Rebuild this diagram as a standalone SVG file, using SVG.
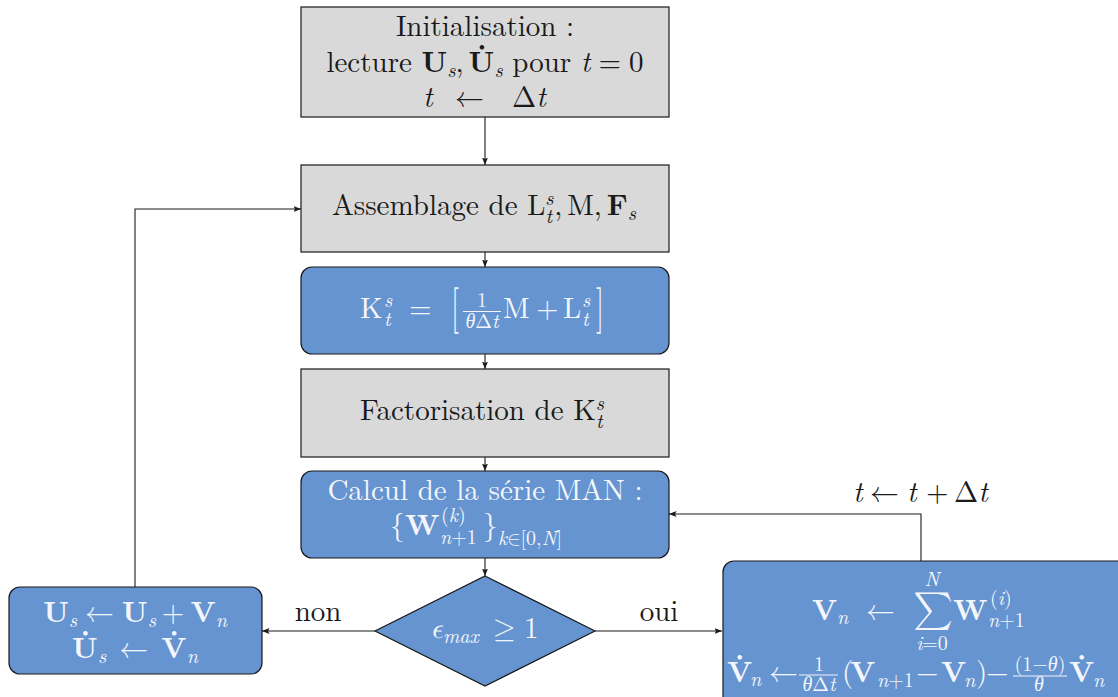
<svg xmlns="http://www.w3.org/2000/svg" width="1118" height="697" viewBox="0 0 1118 697" font-family="Latin Modern Roman, Liberation Serif, DejaVu Serif, serif">
<defs>
<style>
.f{font-family:Latin Modern Roman, Liberation Serif, DejaVu Serif, serif;font-size:29px;fill:#1a1a1a}
.c{text-anchor:middle}
.w{fill:#f4f6fb}
.i{font-style:italic}
.b{font-weight:bold}
.s{font-size:20px}
.ar{font-family:Latin Modern Math, DejaVu Serif, serif;font-style:normal;font-weight:normal}
.ep{font-family:Latin Modern Math, DejaVu Serif, serif;font-style:italic;font-weight:normal}
.g{fill:#d9d9d9;stroke:#1a1a1a;stroke-width:1.2}
.bl{fill:#6594d0;stroke:#1a1a1a;stroke-width:1.2}
.cn{fill:none;stroke:#1a1a1a;stroke-width:1.1;marker-end:url(#ah)}
.fb{stroke:#f4f6fb;stroke-width:1}
</style>
<marker id="ah" markerUnits="userSpaceOnUse" markerWidth="8" markerHeight="7" refX="7.5" refY="3.5" orient="auto"><path d="M0,0.5 L7.5,3.5 L0,6.5 L1.5,3.5 z" fill="#1a1a1a"/></marker>
</defs>
<rect width="1118" height="697" fill="#ffffff"/>

<g id="init">
<rect class="g" x="301" y="7" width="368" height="110"/>
<text class="f c" x="485" y="36">Initialisation :</text>
<text class="f c" x="485" y="72">lecture <tspan class="b">U</tspan><tspan class="s i" dy="5">s</tspan><tspan dy="-5">,</tspan><tspan class="b" dx="5">U</tspan><tspan class="b" dx="-17" dy="-7">˙</tspan><tspan class="s i" dx="8" dy="12">s</tspan><tspan dy="-5"> pour </tspan><tspan class="i">t</tspan><tspan dx="8">=</tspan><tspan dx="8">0</tspan></text>
<text class="f" y="107"><tspan class="i" x="423">t</tspan><tspan class="ar" x="455">←</tspan><tspan x="512">Δ</tspan><tspan class="i">t</tspan></text>
</g>

<g id="assemblage">
<rect class="g" x="301" y="165" width="368" height="87"/>
<text class="f c" x="484" y="215">Assemblage de L<tspan class="s i" dy="-10">s</tspan><tspan class="s i" dx="-8" dy="18">t</tspan><tspan dx="2" dy="-8">,</tspan><tspan dx="5">M,</tspan><tspan class="b" dx="5">F</tspan><tspan class="s i" dy="5">s</tspan></text>
</g>

<g id="kmat">
<rect class="bl" x="301" y="267" width="368" height="87" rx="11"/>
<text class="f w" x="360" y="318">K</text>
<text class="f w s i" x="384" y="307">s</text>
<text class="f w s i" x="384" y="326">t</text>
<text class="f w" x="409" y="318">=</text>
<text class="f w" transform="translate(451,322) scale(1,1.6)">[</text>
<text class="f w s c" x="482" y="307">1</text>
<line class="fb" x1="463" y1="311.5" x2="501" y2="311.5"/>
<text class="f w s c" x="482" y="328"><tspan class="i">θ</tspan>Δ<tspan class="i">t</tspan></text>
<text class="f w" x="503" y="318">M</text>
<text class="f w" x="536" y="318">+</text>
<text class="f w" x="563" y="318">L</text>
<text class="f w s i" x="582" y="307">s</text>
<text class="f w s i" x="582" y="326">t</text>
<text class="f w" transform="translate(596,322) scale(1,1.6)">]</text>
</g>

<g id="factorisation">
<rect class="g" x="301" y="369" width="368" height="88"/>
<text class="f c" x="482" y="420">Factorisation de K<tspan class="s i" dy="-10">s</tspan><tspan class="s i" dx="-8" dy="18">t</tspan></text>
</g>

<g id="calcul">
<rect class="bl" x="301" y="471" width="368" height="87" rx="11"/>
<text class="f w c" x="485" y="500">Calcul de la série MAN :</text>
<text class="f w" x="390" y="535">{</text>
<text class="f w b" x="405" y="535">W</text>
<text class="f w s" x="441" y="522">(<tspan class="i">k</tspan>)</text>
<text class="f w s" x="440" y="544"><tspan class="i">n</tspan>+1</text>
<text class="f w" x="483" y="535">}</text>
<text class="f w s" x="498" y="545"><tspan class="i">k</tspan><tspan class="ar">∈</tspan>[0,<tspan class="i">N</tspan>]</text>
</g>

<g id="decision">
<polygon class="bl" points="485,576 595,631 485,686 375,631"/>
<text class="f w ep" x="430" y="638">ϵ</text>
<text class="f w s i" x="443" y="643">max</text>
<text class="f w ar" x="493" y="638">≥</text>
<text class="f w" x="524" y="638">1</text>
</g>

<g id="update">
<rect class="bl" x="9" y="587" width="253" height="87" rx="11"/>
<text class="f w c" x="135" y="622"><tspan class="b">U</tspan><tspan class="s i" dy="5">s</tspan><tspan class="ar" dx="8" dy="-5">←</tspan><tspan class="b" dx="8">U</tspan><tspan class="s i" dy="5">s</tspan><tspan dx="6" dy="-5">+</tspan><tspan class="b" dx="6">V</tspan><tspan class="s i" dy="5">n</tspan></text>
<text class="f w c" x="135" y="658"><tspan class="b">U</tspan><tspan class="b" dx="-17" dy="-7">˙</tspan><tspan class="s i" dx="8" dy="12">s</tspan><tspan class="ar" dx="13" dy="-5">←</tspan><tspan class="b" dx="13">V</tspan><tspan class="b" dx="-17" dy="-7">˙</tspan><tspan class="s i" dx="8" dy="12">n</tspan></text>
</g>

<g id="somme">
<rect class="bl" x="723" y="561" width="420" height="160" rx="11"/>
<text class="f w b" x="812" y="620">V</text>
<text class="f w s i" x="837" y="624">n</text>
<text class="f w ar" x="866" y="620">←</text>
<text class="f w ar" x="913" y="621" style="font-size:38px">∑</text>
<text class="f w s i c" x="932" y="586">N</text>
<text class="f w s c" x="932" y="650"><tspan class="i">i</tspan>=0</text>
<text class="f w b" x="953" y="620">W</text>
<text class="f w s" x="990" y="605">(<tspan class="i">i</tspan>)</text>
<text class="f w s" x="988" y="627"><tspan class="i">n</tspan>+1</text>
<text class="f w b" x="727" y="682">V</text>
<text class="f w b" x="735" y="675">˙</text>
<text class="f w s i" x="750" y="686">n</text>
<text class="f w ar" x="769" y="682">←</text>
<text class="f w s c" x="819" y="671">1</text>
<line class="fb" x1="799" y1="675" x2="838" y2="675"/>
<text class="f w s c" x="819" y="691"><tspan class="i">θ</tspan>Δ<tspan class="i">t</tspan></text>
<text class="f w" x="842" y="682">(</text>
<text class="f w b" x="850" y="682">V</text>
<text class="f w s" x="877" y="687"><tspan class="i">n</tspan>+1</text>
<text class="f w" x="916" y="682">−</text>
<text class="f w b" x="941" y="682">V</text>
<text class="f w s i" x="964" y="687">n</text>
<text class="f w" x="976" y="682">)</text>
<text class="f w" x="986" y="682">−</text>
<text class="f w s c" x="1040" y="671">(1−<tspan class="i">θ</tspan>)</text>
<line class="fb" x1="1013" y1="676" x2="1067" y2="676"/>
<text class="f w s c i" x="1039" y="691">θ</text>
<text class="f w b" x="1069" y="682">V</text>
<text class="f w b" x="1077" y="675">˙</text>
<text class="f w s i" x="1093" y="687">n</text>
</g>

<g id="connectors">
<path class="cn" d="M485,117 V165"/>
<path class="cn" d="M485,252 V267"/>
<path class="cn" d="M485,354 V369"/>
<path class="cn" d="M485,457 V471"/>
<path class="cn" d="M485,558 V576"/>
<path class="cn" d="M375,631 H262"/>
<path class="cn" d="M595,631 H722"/>
<path class="cn" d="M921,561 V514 H669"/>
<path class="cn" d="M135,587 V209 H301"/>
<text class="f c" x="318" y="621">non</text>
<text class="f c" x="659" y="621">oui</text>
<text class="f" y="502"><tspan class="i" x="853">t</tspan><tspan class="ar" x="870">←</tspan><tspan class="i" x="907">t</tspan><tspan x="926">+</tspan><tspan x="954">Δ</tspan><tspan class="i">t</tspan></text>
</g>
</svg>
